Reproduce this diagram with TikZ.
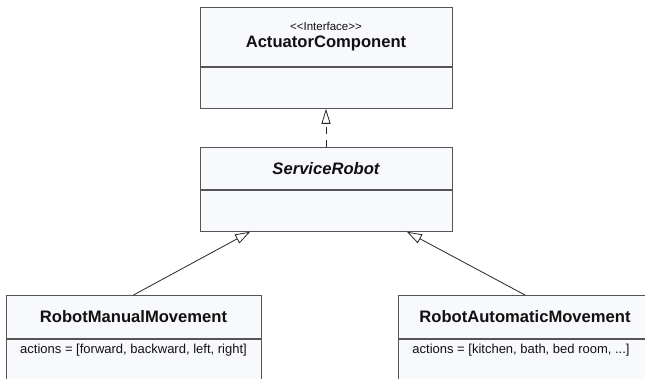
\documentclass[tikz,border=0pt]{standalone}
\usepackage{fontspec}
\setmainfont{Liberation Sans}
\usepackage{tikz}
\usetikzlibrary{arrows.meta,positioning,calc}
\definecolor{boxline}{HTML}{555555}
\definecolor{boxfill}{HTML}{F8F9FC}
\definecolor{inkgrey}{HTML}{111111}
\tikzset{
  headbox/.style = {draw=boxline, fill=boxfill, line width=0.9pt, text=inkgrey,
                    align=center, inner sep=0pt, minimum width=252pt},
  bodybox/.style = {draw=boxline, fill=boxfill, line width=0.9pt,
                    inner sep=0pt, minimum width=252pt},
  namefont/.style = {font=\fontsize{16.6}{19}\selectfont\bfseries},
  attrtext/.style = {font=\fontsize{13}{15}\selectfont, text=inkgrey},
  realize/.style = {-{Triangle[open, length=15pt, width=9pt, fill=white]},
                    draw=black!85, line width=0.8pt, dash pattern=on 7pt off 6pt},
  inherit/.style = {-{Triangle[open, length=15pt, width=10pt, fill=white]},
                    draw=black!85, line width=0.8pt},
}

\begin{document}
\begin{tikzpicture}[x=1pt,y=-1pt]
  \clip (0,0) rectangle (645,379);
  \fill[white] (0,0) rectangle (645,379);
  % interface
  \node[headbox, minimum height=59pt, anchor=north] (acthead) at (326,7)
    {{\fontsize{11.5}{13}\selectfont {<}{<}Interface{>}{>}}\\[5pt]
     {\fontsize{16.6}{19}\selectfont\bfseries ActuatorComponent}};
  \node[bodybox, minimum height=41pt, below=0pt of acthead] (actbody) {};
  % abstract class
  \node[headbox, namefont, minimum height=42pt, anchor=north] (srhead) at (326,147)
    {\itshape ServiceRobot};
  \node[bodybox, minimum height=41pt, below=0pt of srhead] (srbody) {};
  % manual movement
  \node[headbox, namefont, minimum width=255pt, minimum height=43pt, anchor=north]
    (mmhead) at (133.5,295) {RobotManualMovement};
  \node[bodybox, minimum width=255pt, minimum height=60pt, below=0pt of mmhead] (mmbody) {};
  \node[attrtext, below=2pt of mmbody.north] (mmattr)
    {actions = [forward, backward, left, right]};
  % automatic movement
  \node[headbox, namefont, minimum width=254pt, minimum height=43pt, anchor=north]
    (amhead) at (525,295) {RobotAutomaticMovement};
  \node[bodybox, minimum width=254pt, minimum height=60pt, below=0pt of amhead] (ambody) {};
  \node[attrtext, below=2pt of ambody.north, xshift=-4pt] (amattr)
    {actions = [kitchen, bath, bed room, ...]};
  % relations
  \draw[realize] (srhead.north) -- (actbody.south);
  \draw[inherit] (mmhead.north) -- ($(srbody.south west)!0.2!(srbody.south east)$);
  \draw[inherit] (amhead.north) -- ($(srbody.south west)!0.82!(srbody.south east)$);
\end{tikzpicture}
\end{document}
